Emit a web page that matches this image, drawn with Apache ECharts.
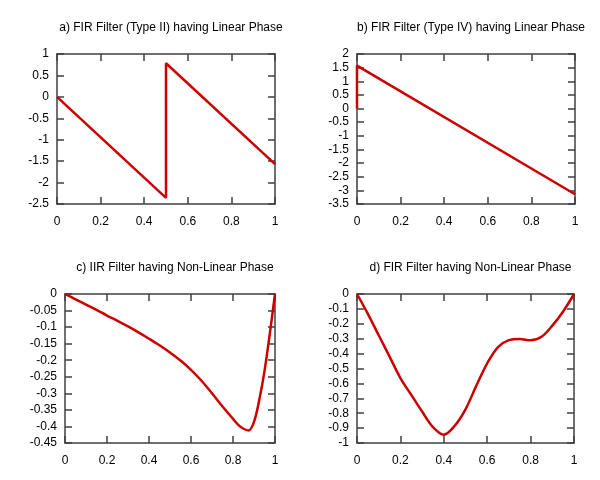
<!DOCTYPE html>
<html><head><meta charset="utf-8">
<script src="https://cdn.jsdelivr.net/npm/echarts@6/dist/echarts.min.js"></script>
<style>html,body{margin:0;padding:0;background:#fff}#c{width:600px;height:480px}</style>
</head><body><div id="c"></div>
<script>
const titles = ["a) FIR Filter (Type II) having Linear Phase","b) FIR Filter (Type IV) having Linear Phase","c) IIR Filter having Non-Linear Phase","d) FIR Filter having Non-Linear Phase"];
const xA = [0, 0.5, 0.5, 1];
const yA = [0, -2.356, 0.785, -1.571];
const xB = [0, 0, 1];
const yB = [0, 1.571, -3.142];
const xC = [0, 0.05, 0.1, 0.15, 0.2, 0.25, 0.3, 0.35, 0.4, 0.45, 0.5, 0.55, 0.6, 0.65, 0.7, 0.75, 0.8, 0.825, 0.85, 0.875, 0.9, 0.925, 0.95, 0.975, 1];
const yC = [0, -0.016, -0.032, -0.048, -0.065, -0.081, -0.098, -0.116, -0.135, -0.155, -0.177, -0.201, -0.229, -0.262, -0.3, -0.34, -0.377, -0.395, -0.407, -0.412, -0.386, -0.32, -0.233, -0.121, 0];
const xD = [0, 0.05, 0.1, 0.15, 0.2, 0.25, 0.3, 0.35, 0.4, 0.45, 0.5, 0.55, 0.6, 0.65, 0.7, 0.75, 0.8, 0.85, 0.9, 0.95, 1];
const yD = [0, -0.133, -0.277, -0.42, -0.564, -0.677, -0.789, -0.893, -0.944, -0.885, -0.774, -0.615, -0.465, -0.356, -0.31, -0.302, -0.311, -0.287, -0.212, -0.117, 0];
const yRanges = [[-2.5, 1, 0.5], [-3.5, 2, 0.5], [-0.45, 0, 0.05], [-1, 0, 0.1]];
const xTicks = [0, 1, 0.2];

const grids = [
  {left: 57, top: 54, width: 218, height: 150},
  {left: 357, top: 54, width: 218, height: 150},
  {left: 65, top: 294, width: 210, height: 149},
  {left: 357, top: 294, width: 217, height: 149}
];
const titleTops = [17, 17, 257, 257];
const xs = [xA, xB, xC, xD], ys = [yA, yB, yC, yD];
const FONT = 'Liberation Sans';
const lineStyle = {color: '#404040', width: 1.5};
const tick = {show: true, inside: true, length: 7, lineStyle: {color: '#404040', width: 1.5}};

const option = {
  animation: false,
  backgroundColor: '#fff',
  title: titles.map((t, i) => ({
    text: t, left: grids[i].left + grids[i].width / 2, top: titleTops[i], textAlign: 'center',
    textStyle: {fontFamily: FONT, fontSize: 12, fontWeight: 'normal', color: '#000'}
  })),
  grid: grids,
  xAxis: [], yAxis: [], series: []
};
grids.forEach((g, i) => {
  const base = {type: 'value', gridIndex: i, min: xTicks[0], max: xTicks[1], interval: xTicks[2],
    splitLine: {show: false}, axisLine: {show: true, onZero: false, lineStyle}, axisTick: tick};
  option.xAxis.push(Object.assign({}, base, {position: 'bottom',
    axisLabel: {fontFamily: FONT, fontSize: 12, color: '#000', margin: 12}}));
  option.xAxis.push(Object.assign({}, base, {position: 'top', axisLabel: {show: false}}));
  const r = yRanges[i];
  const ybase = {type: 'value', gridIndex: i, min: r[0], max: r[1], interval: r[2],
    splitLine: {show: false}, axisLine: {show: true, onZero: false, lineStyle}, axisTick: tick};
  option.yAxis.push(Object.assign({}, ybase, {position: 'left',
    axisLabel: {fontFamily: FONT, fontSize: 12, color: '#000', margin: 8}}));
  option.yAxis.push(Object.assign({}, ybase, {position: 'right', axisLabel: {show: false}}));
  option.series.push({
    type: 'line', xAxisIndex: 2 * i, yAxisIndex: 2 * i, showSymbol: false,
    smooth: (i >= 2) ? 0.35 : false,
    lineStyle: {color: '#cc0000', width: 2.5}, itemStyle: {color: '#cc0000'},
    data: xs[i].map((x, k) => [x, ys[i][k]])
  });
});
const chart = echarts.init(document.getElementById('c'), null, {renderer: 'canvas'});
chart.setOption(option);
</script></body></html>
